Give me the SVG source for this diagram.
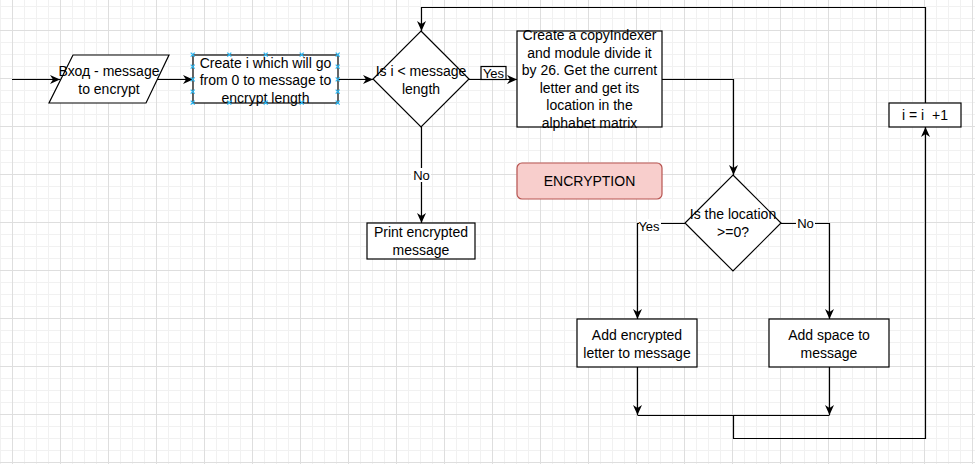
<svg xmlns="http://www.w3.org/2000/svg" width="975" height="464" viewBox="0 0 975 464">
<defs>
<pattern id="grid" x="12" y="30" width="48" height="48" patternUnits="userSpaceOnUse">
<path d="M12.5,0V48M24.5,0V48M36.5,0V48M0,12.5H48M0,24.5H48M0,36.5H48" stroke="#f1f1f1" stroke-width="1" fill="none"/>
<path d="M0.5,0V48M0,0.5H48" stroke="#dedede" stroke-width="1" fill="none"/>
</pattern>
<marker id="arr" viewBox="0 0 10 10" refX="10" refY="5" markerWidth="10" markerHeight="10" markerUnits="userSpaceOnUse" orient="auto">
<path d="M0,0.5 L10,5 L0,9.5 L3,5 Z" fill="#000"/>
</marker>
<style>
.n{fill:#fff;stroke:#000;stroke-width:1.2}
.t{font-family:"Liberation Sans",Arial,sans-serif;font-size:14px;fill:#000;text-anchor:middle}
.l{font-family:"Liberation Sans",Arial,sans-serif;font-size:13px;fill:#000;text-anchor:middle}
.c{fill:none;stroke:#000;stroke-width:1.2}
.a{marker-end:url(#arr)}
.h{stroke:#29b6f2;stroke-width:1.2;fill:none}
</style>
</defs>
<rect width="975" height="464" fill="#fff"/>
<rect width="975" height="464" fill="url(#grid)"/>

<g id="connectors">
<path class="c a" d="M12,79.5H60"/>
<path class="c a" d="M157.5,79.5H193"/>
<path class="c a" d="M338,79.5H373"/>
<path class="c a" d="M469,79.5H517"/>
<path class="c a" d="M421.5,127V223"/>
<path class="c a" d="M925.5,103V7.5H421.5V31"/>
<path class="c a" d="M662,79.5H733.5V175"/>
<path class="c a" d="M685,223.5H637.5V319"/>
<path class="c a" d="M781,223.5H829.5V319"/>
<path class="c a" d="M637.5,367V415"/>
<path class="c a" d="M829.5,367V415"/>
<path class="c" d="M637.5,415.5H829.5"/>
<path class="c a" d="M733.5,415.5V438.5H925.5V127"/>
<g id="label-yes1">
<rect x="481" y="66.5" width="25" height="13" fill="#fff" stroke="#000" stroke-width="1.2"/>
<text class="l" x="493.5" y="77.5">Yes</text>
</g>
<g id="label-no1">
<rect x="411" y="168" width="20" height="14" fill="#fff"/>
<text class="l" x="421.5" y="180">No</text>
</g>
<g id="label-yes2">
<rect x="639" y="219" width="22" height="14" fill="#fff"/>
<text class="l" x="649" y="231">Yes</text>
</g>
<g id="label-no2">
<rect x="796" y="216" width="19" height="14" fill="#fff"/>
<text class="l" x="805.5" y="228">No</text>
</g>
</g>

<g id="input">
<polygon class="n" points="73,55 169,55 146,103 49,103"/>
<text class="t" x="109" y="76">Вход - message</text>
<text class="t" x="109" y="94">to encrypt</text>
</g>

<g id="init">
<rect class="n" x="193" y="55" width="145" height="48"/>
<text class="t" x="265.5" y="68">Create i which will go</text>
<text class="t" x="265.5" y="85.3">from 0 to message to</text>
<text class="t" x="265.5" y="102.6">encrypt length</text>
<g id="handles" class="h">
<path d="M190.7,52.7l4,4m0,-4l-4,4M227.3,52.7l4,4m0,-4l-4,4M263.7,52.7l4,4m0,-4l-4,4M299.7,52.7l4,4m0,-4l-4,4M335.7,52.7l4,4m0,-4l-4,4"/>
<path d="M190.7,100.7l4,4m0,-4l-4,4M227.3,100.7l4,4m0,-4l-4,4M263.7,100.7l4,4m0,-4l-4,4M299.7,100.7l4,4m0,-4l-4,4M335.7,100.7l4,4m0,-4l-4,4"/>
<path d="M190.7,64.7l4,4m0,-4l-4,4M190.7,77.3l4,4m0,-4l-4,4M190.7,89.7l4,4m0,-4l-4,4"/>
<path d="M335.7,64.7l4,4m0,-4l-4,4M335.7,77.3l4,4m0,-4l-4,4M335.7,89.7l4,4m0,-4l-4,4"/>
</g>
</g>

<g id="cond1">
<polygon class="n" points="421,31 469,79 421,127 373,79"/>
<text class="t" x="421" y="75.5">Is i &lt; message</text>
<text class="t" x="421" y="93.5">length</text>
</g>

<g id="process">
<rect class="n" x="517" y="31" width="145" height="96"/>
<text class="t" x="589.5" y="40">Create a copyIndexer</text>
<text class="t" x="589.5" y="57.6">and module divide it</text>
<text class="t" x="589.5" y="75.2">by 26. Get the current</text>
<text class="t" x="589.5" y="92.8">letter and get its</text>
<text class="t" x="589.5" y="110.4">location in the</text>
<text class="t" x="589.5" y="128">alphabet matrix</text>
</g>

<g id="print">
<rect class="n" x="367" y="223" width="108" height="36"/>
<text class="t" x="421" y="237">Print encrypted</text>
<text class="t" x="421" y="255">message</text>
</g>

<g id="title">
<rect x="517" y="163" width="145" height="36" rx="5" fill="#f8cecc" stroke="#b85450" stroke-width="1.2"/>
<text class="t" x="589.5" y="186">ENCRYPTION</text>
</g>

<g id="cond2">
<polygon class="n" points="733,175 781,223 733,271 685,223"/>
<text class="t" x="733" y="218.5">Is the location</text>
<text class="t" x="733" y="236.5">&gt;=0?</text>
</g>

<g id="addletter">
<rect class="n" x="577" y="319" width="120" height="48"/>
<text class="t" x="637" y="339.5">Add encrypted</text>
<text class="t" x="637" y="357.5">letter to message</text>
</g>

<g id="addspace">
<rect class="n" x="769" y="319" width="120" height="48"/>
<text class="t" x="829" y="339.5">Add space to</text>
<text class="t" x="829" y="357.5">message</text>
</g>

<g id="increment">
<rect class="n" x="889" y="103" width="72" height="24"/>
<text class="t" x="925" y="120" xml:space="preserve">i = i  +1</text>
</g>
</svg>
